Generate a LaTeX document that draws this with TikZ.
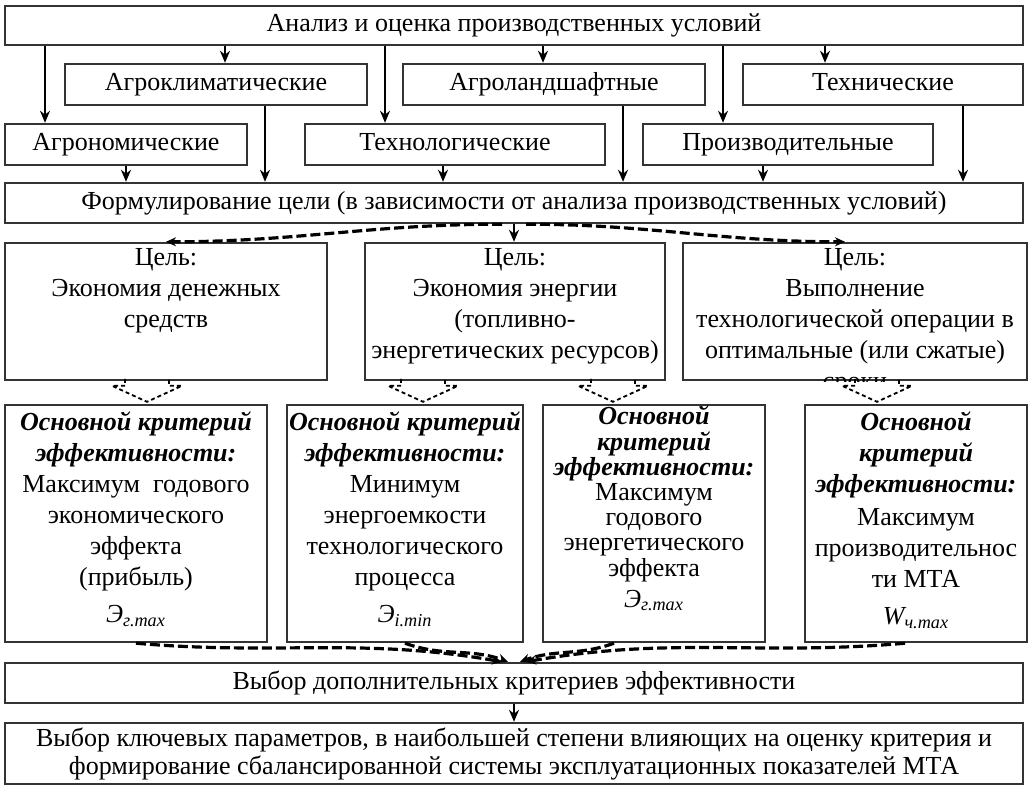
\documentclass[tikz,border=0pt]{standalone}
\usepackage{fontspec}
\setmainfont{Liberation Serif}
\usetikzlibrary{arrows.meta}
\usetikzlibrary{positioning}

\newcommand{\boxfont}{\fontsize{13}{15.5}\selectfont}
\newcommand{\tightfont}{\fontsize{13}{12.6}\selectfont}

\begin{document}
\begin{tikzpicture}[x = 0.5pt, y = -0.5pt]
	\tikzstyle{boxStyle} = [draw = black!80, line width = 1.2pt, inner sep = 0pt, align = center, font = \boxfont]
	\tikzstyle{rowStyle} = [boxStyle, text height = 9.5pt, text depth = 3pt]
	\tikzstyle{textStyle} = [inner sep = 1pt, align = center, font = \boxfont, anchor = north]
	\tikzstyle{thickArrow} = [line width = 1.3pt, -{Stealth[length = 6pt, width = 5pt]}]
	\tikzstyle{dashArrow} = [line width = 1.6pt, dash pattern = on 5pt off 2pt, -{Stealth[length = 5pt, width = 4.5pt]}]
	\tikzstyle{hollowArrow} = [line width = 0.9pt, dash pattern = on 2pt off 1.5pt]
	\useasboundingbox (0,0) rectangle (1033,802);
	% production conditions
	\node[rowStyle, minimum width = 509pt, minimum height = 19.5pt] (anal) at (514, 25.5) {Анализ и оценка производственных условий};
	\node[rowStyle, minimum width = 151pt, minimum height = 20.5pt] (agroklim) at (216, 84.5) {Агроклиматические};
	\node[rowStyle, minimum width = 151pt, minimum height = 20.5pt] (agroland) at (554, 84.5) {Агроландшафтные};
	\node[rowStyle, minimum width = 140pt, minimum height = 20.5pt] (tekhn) at (883, 84.5) {Технические};
	\node[rowStyle, minimum width = 121pt, minimum height = 20.5pt] (agronom) at (126, 144.5) {Агрономические};
	\node[rowStyle, minimum width = 150pt, minimum height = 20.5pt] (tekhnol) at (455, 144.5) {Технологические};
	\node[rowStyle, minimum width = 145pt, minimum height = 20.5pt] (proizv) at (788, 144.5) {Производительные};
	\node[rowStyle, minimum width = 509pt, minimum height = 20pt] (formul) at (514, 203) {Формулирование цели (в зависимости от анализа производственных условий)};
	\draw[thickArrow] ([xshift = -40.5pt]agronom.north |- anal.south) -- ([xshift = -40.5pt]agronom.north);
	\draw[thickArrow] ([xshift = 4.5pt]agroklim.north |- anal.south) -- ([xshift = 4.5pt]agroklim.north);
	\draw[thickArrow] ([xshift = -35pt]tekhnol.north |- anal.south) -- ([xshift = -35pt]tekhnol.north);
	\draw[thickArrow] ([xshift = -5.5pt]agroland.north |- anal.south) -- ([xshift = -5.5pt]agroland.north);
	\draw[thickArrow] ([xshift = -32.5pt]proizv.north |- anal.south) -- ([xshift = -32.5pt]proizv.north);
	\draw[thickArrow] ([xshift = -29pt]tekhn.north |- anal.south) -- ([xshift = -29pt]tekhn.north);
	\draw[thickArrow] (agronom.south) -- (agronom.south |- formul.north);
	\draw[thickArrow] ([xshift = 24.5pt]agroklim.south) -- ([xshift = 24.5pt]agroklim.south |- formul.north);
	\draw[thickArrow] ([xshift = -6pt]tekhnol.south) -- ([xshift = -6pt]tekhnol.south |- formul.north);
	\draw[thickArrow] ([xshift = 34.5pt]agroland.south) -- ([xshift = 34.5pt]agroland.south |- formul.north);
	\draw[thickArrow] ([xshift = -12.5pt]proizv.south) -- ([xshift = -12.5pt]proizv.south |- formul.north);
	\draw[thickArrow] ([xshift = 40pt]tekhn.south) -- ([xshift = 40pt]tekhn.south |- formul.north);
	% goals
	\node[boxStyle, minimum width = 161pt, minimum height = 68.5pt] (goal1) at (166, 311.5) {};
	\node[boxStyle, minimum width = 150pt, minimum height = 68.5pt] (goal2) at (515, 311.5) {};
	\node[boxStyle, minimum width = 172pt, minimum height = 68.5pt] (goal3) at (855, 311.5) {};
	\node[textStyle] (goal1Text) at ([yshift = -2pt]goal1.north) {Цель:\\Экономия денежных\\средств};
	\node[textStyle] (goal2Text) at ([yshift = -2pt]goal2.north) {Цель:\\Экономия энергии\\(топливно-\\энергетических ресурсов)};
	\begin{scope}
		\clip (goal3.south west) rectangle (goal3.north east);
		\node[textStyle] (goal3Text) at ([yshift = -2pt]goal3.north) {Цель:\\Выполнение\\технологической операции в\\оптимальные (или сжатые)\\сроки};
	\end{scope}
	\draw[thickArrow] (formul.south) -- (formul.south |- goal2.north);
	\draw[dashArrow] ([xshift = -6pt]formul.south) to[out = 180, in = 0] (goal1.north);
	\draw[dashArrow] ([xshift = 6pt]formul.south) to[out = 0, in = 180] ([xshift = -5pt]goal3.north);
	% criteria
	\node[boxStyle, minimum width = 131pt, minimum height = 118.5pt] (crit1) at (136, 523.5) {};
	\node[boxStyle, minimum width = 118pt, minimum height = 118.5pt] (crit2) at (405, 523.5) {};
	\node[boxStyle, minimum width = 111pt, minimum height = 118.5pt] (crit3) at (654, 523.5) {};
	\node[boxStyle, minimum width = 111pt, minimum height = 118.5pt] (crit4) at (916, 523.5) {};
	\node[textStyle] (crit1Text) at ([yshift = -3pt]crit1.north) {\textbf{\textit{Основной критерий}}\\\textbf{\textit{эффективности:}}\\Максимум~~годового\\экономического\\эффекта\\(прибыль)\\[3pt]\textit{Э\textsubscript{г.max}}};
	\node[textStyle] (crit2Text) at ([yshift = -3pt]crit2.north) {\textbf{\textit{Основной критерий}}\\\textbf{\textit{эффективности:}}\\Минимум\\энергоемкости\\технологического\\процесса\\[3pt]\textit{Э\textsubscript{i.min}}};
	\node[textStyle, font = \tightfont] (crit3Text) at ([yshift = 0pt]crit3.north) {\textbf{\textit{Основной}}\\\textbf{\textit{критерий}}\\\textbf{\textit{эффективности:}}\\Максимум\\годового\\энергетического\\эффекта\\[3pt]\textit{Э\textsubscript{г.max}}};
	\node[textStyle] (crit4Text) at ([yshift = -3pt]crit4.north) {\textbf{\textit{Основной}}\\\textbf{\textit{критерий}}\\\textbf{\textit{эффективности:}}\\[1pt]Максимум\\производительнос\\ти МТА\\[3pt]\textit{W\textsubscript{ч.max}}};
	\coordinate (v1) at ([shift = {(5.5pt, 1pt)}]crit1.north);
	\coordinate (v2) at ([shift = {(9pt, 1pt)}]crit2.north);
	\coordinate (v3) at ([shift = {(-20.5pt, 1pt)}]crit3.north);
	\coordinate (v4) at ([shift = {(-19.5pt, 1pt)}]crit4.north);
	\draw[hollowArrow] ([shift = {(-11pt, 11.5pt)}]v1) -- ++(0pt, -3.5pt) -- ++(-6.5pt, 0pt) -- (v1) -- ++(17.5pt, 8pt) -- ++(-6.5pt, 0pt) -- ++(0pt, 3.5pt);
	\draw[hollowArrow] ([shift = {(-11pt, 11.5pt)}]v2) -- ++(0pt, -3.5pt) -- ++(-6.5pt, 0pt) -- (v2) -- ++(17.5pt, 8pt) -- ++(-6.5pt, 0pt) -- ++(0pt, 3.5pt);
	\draw[hollowArrow] ([shift = {(-11pt, 11.5pt)}]v3) -- ++(0pt, -3.5pt) -- ++(-6.5pt, 0pt) -- (v3) -- ++(17.5pt, 8pt) -- ++(-6.5pt, 0pt) -- ++(0pt, 3.5pt);
	\draw[hollowArrow] ([shift = {(-11pt, 11.5pt)}]v4) -- ++(0pt, -3.5pt) -- ++(-6.5pt, 0pt) -- (v4) -- ++(17.5pt, 8pt) -- ++(-6.5pt, 0pt) -- ++(0pt, 3.5pt);
	% choice of parameters
	\node[rowStyle, minimum width = 509pt, minimum height = 20pt] (vybor) at (514, 683) {Выбор дополнительных критериев эффективности};
	\node[boxStyle, minimum width = 509pt, minimum height = 30.5pt] (final) at (514, 753.5) {Выбор ключевых параметров, в наибольшей степени влияющих на оценку критерия и\\[-1.5pt]формирование сбалансированной системы эксплуатационных показателей МТА};
	\draw[dashArrow] (crit1.south) to[out = -5, in = 170] ([xshift = -6pt]vybor.north);
	\draw[dashArrow] (crit2.south) to[out = -20, in = 160] ([xshift = -3pt]vybor.north);
	\draw[dashArrow] ([xshift = -20pt]crit3.south) to[out = -160, in = 20] ([xshift = 3pt]vybor.north);
	\draw[dashArrow] ([xshift = -5.5pt]crit4.south) to[out = 185, in = 10] ([xshift = 6pt]vybor.north);
	\draw[thickArrow] (vybor.south) -- (final.north);
\end{tikzpicture}
\end{document}
